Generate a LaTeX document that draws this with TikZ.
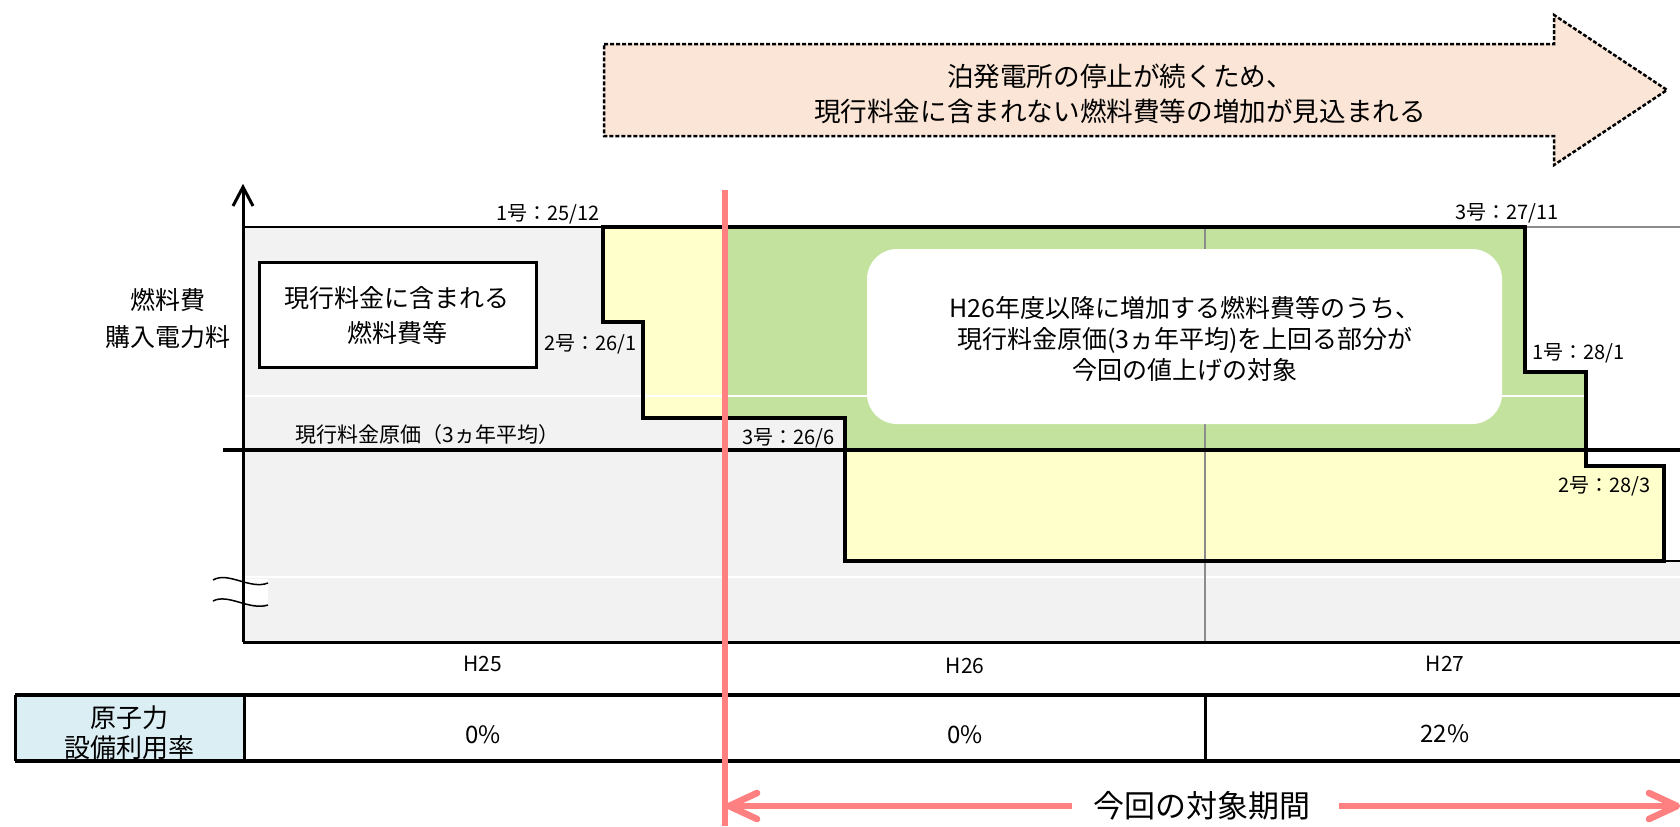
\documentclass[tikz,border=0pt]{standalone}
\usepackage{fontspec}
\setmainfont{Noto Sans CJK JP}
\usetikzlibrary{calc}
\definecolor{bgGray}{HTML}{F2F2F2}
\definecolor{fillYel}{HTML}{FFFFCC}
\definecolor{fillGrn}{HTML}{C3E29E}
\definecolor{fillPeach}{HTML}{FBE5D6}
\definecolor{fillBlue}{HTML}{DAEEF3}
\definecolor{lineRed}{HTML}{FF8080}
\definecolor{gridGray}{HTML}{8C8C8C}
\begin{document}
\begin{tikzpicture}[x=0.5pt,y=-0.5pt,
  fs/.style={font=\fontsize{#1pt}{#1pt}\selectfont,text height=0.75*#1pt,text depth=0pt,inner sep=0pt},
  stepline/.style={line width=2.35pt,line join=miter},
  baseline/.style={line width=2.25pt},
  axisline/.style={line width=1.5pt},
  gridwhite/.style={white,line width=0.75pt},
  gridgray/.style={gridGray,line width=1pt},
  tableline/.style={line width=1.75pt},
  tablediv/.style={line width=1.5pt},
  redline/.style={lineRed,line width=3.3pt},
  spanline/.style={lineRed,line width=3.3pt},
  spanhead/.style={lineRed,line width=3.3pt,line cap=round,line join=round},
  bigarrow/.style={draw=black,fill=fillPeach,line width=1.25pt,dash pattern=on 2pt off 1pt},
  wave/.style={line width=0.75pt}]
\useasboundingbox (0,0) rectangle (1680,826);

% ---- big arrow
\draw[bigarrow] (604,44) -- (1554,44) -- (1554,15) -- (1667,90) -- (1554,165) -- (1554,136) -- (604,136) -- cycle;
\node[fs=13.3] (msgA) at (1120,77) {泊発電所の停止が続くため、};
\node[fs=13.3] (msgB) at (1120,112) {現行料金に含まれない燃料費等の増加が見込まれる};

% ---- plot area fills
\fill[bgGray] (243,227) rectangle (1680,642);
\fill[white] (1525,227) -- (1680,227) -- (1680,561) -- (1664,561) -- (1664,466) -- (1586,466) -- (1586,372) -- (1525,372) -- cycle;
\fill[fillYel] (603,227) -- (725,227) -- (725,418) -- (643,418) -- (643,322) -- (603,322) -- cycle;
\fill[fillYel] (845,450) -- (1586,450) -- (1586,466) -- (1664,466) -- (1664,561) -- (845,561) -- cycle;
\fill[fillGrn] (725,227) -- (1525,227) -- (1525,372) -- (1586,372) -- (1586,450) -- (845,450) -- (845,418) -- (725,418) -- cycle;

% ---- gridlines
\draw[gridwhite] (243,396) -- (1680,396);
\draw[gridwhite] (243,577) -- (1680,577);
\draw[gridgray] (1205,227) -- (1205,642);
\draw[gridgray,line width=1.3pt] (1525,227) -- (1680,227);

% ---- target box
\node[fill=white,rounded corners=15pt,minimum width=317.5pt,minimum height=87.5pt,inner sep=0pt] (target) at (1184.5,336.5) {};
\node[fs=12.5] (tgA) at (1185,308) {H26年度以降に増加する燃料費等のうち、};
\node[fs=12.5] (tgB) at (1185,339) {現行料金原価(3ヵ年平均)を上回る部分が};
\node[fs=12.5] (tgC) at (1185,370) {今回の値上げの対象};

% ---- break mark
\fill[white] (245,579) rectangle (268,604);
\draw[wave] (213,580) .. controls (228,571) and (250,590) .. (268,583);
\draw[wave] (213,601) .. controls (228,593) and (250,611) .. (268,605);

% ---- lines
\draw[line width=1.35pt] (243,227) -- (603,227);
\draw[baseline] (223,450) -- (1680,450);
\draw[stepline] (603,227) -- (1525,227) -- (1525,372) -- (1586,372) -- (1586,466) -- (1664,466) -- (1664,561) -- (845,561) -- (845,418) -- (643,418) -- (643,322) -- (603,322) -- cycle;
\draw[line width=1.3pt] (1664,561) -- (1680,561);

% ---- axes
\coordinate (origin) at (243,642);
\coordinate (yTop) at (243,187);
\coordinate (xEnd) at (1680,642);
\draw[axisline] (origin) -- (yTop);
\draw[axisline] ($(yTop)+(-10,19)$) -- (yTop) -- ($(yTop)+(10,19)$);
\draw[axisline] (origin) -- (xEnd);

% ---- left box and labels
\node[draw=black,line width=1.5pt,fill=white,minimum width=138.5pt,minimum height=52.5pt,inner sep=0pt] (curbox) at (397.5,314.5) {};
\node[fs=12.5] (curA) at (397,298) {現行料金に含まれる};
\node[fs=12.5] (curB) at (397,333) {燃料費等};
\node[fs=12.5] (yA) at (168,300) {燃料費};
\node[fs=12.5] (yB) at (168,337) {購入電力料};

\node[fs=10,anchor=east] (l1) at (600,213) {1号：25/12};
\node[fs=10,anchor=east] (l2) at (637,343) {2号：26/1};
\node[fs=10,anchor=east] (l3) at (835,437) {3号：26/6};
\node[fs=10,anchor=east] (l4) at (1559,212) {3号：27/11};
\node[fs=10,anchor=east] (l5) at (1625,352) {1号：28/1};
\node[fs=10,anchor=east] (l6) at (1651,485) {2号：28/3};
\node[fs=10.5,anchor=west] (avg) at (295,435) {現行料金原価（3ヵ年平均）};

% ---- year labels
\node[fs=10.5] (h25) at (483,664) {H25};
\node[fs=10.5] (h26) at (965,666) {H26};
\node[fs=10.5] (h27) at (1445,664) {H27};

% ---- table
\fill[fillBlue] (15,695) rectangle (244,761);
\draw[tableline] (15,695) -- (1680,695);
\draw[tableline] (15,761) -- (1680,761);
\draw[tablediv] (15,695) -- (15,761);
\draw[tablediv] (244,695) -- (244,761);
\draw[tablediv] (1205,695) -- (1205,761);
\node[fs=13] (hdA) at (129,718) {原子力};
\node[fs=13] (hdB) at (129,748) {設備利用率};
\node[fs=12] (v25) at (483,734) {0\%};
\node[fs=12] (v26) at (965,734) {0\%};
\node[fs=12] (v27) at (1445,733) {22\%};

% ---- period marker
\draw[redline] (725,190) -- (725,826);
\node[fs=15.5] (span) at (1202,806) {今回の対象期間};
\coordinate (spanL) at (729,806);
\coordinate (spanR) at (1677,806);
\draw[spanline] ([xshift=-10.5pt]span.west) -- (spanL);
\draw[spanline] ([xshift=14pt]span.east) -- (spanR);
\draw[spanhead] ($(spanL)+(28,-13)$) -- (spanL) -- ($(spanL)+(28,13)$);
\draw[spanhead] ($(spanR)+(-28,-13)$) -- (spanR) -- ($(spanR)+(-28,13)$);
\end{tikzpicture}
\end{document}
